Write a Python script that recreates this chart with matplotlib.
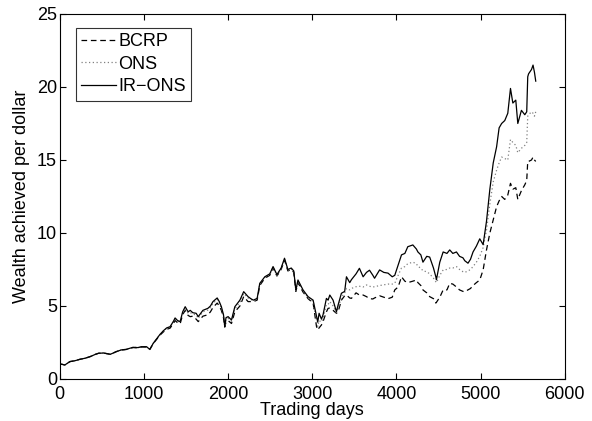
import matplotlib
matplotlib.use("Agg")
import matplotlib.pyplot as plt

plt.rcParams['font.family'] = ['Liberation Sans', 'DejaVu Sans']

# wealth per dollar (day, value)
days = [0, 30, 60, 120, 180, 240, 300, 360, 420, 460, 520, 600, 670, 730, 790,
        870, 930, 970, 1030, 1070, 1110, 1190, 1230, 1270, 1310, 1350, 1370,
        1400, 1430, 1460, 1490, 1525, 1550, 1580, 1620, 1645, 1700, 1760, 1790,
        1820, 1870, 1895, 1920, 1945, 1960, 1975, 2000, 2040, 2080, 2140, 2185,
        2237, 2270, 2300, 2345, 2376, 2436, 2495, 2534, 2580, 2630, 2670, 2710,
        2750, 2780, 2805, 2830, 2890, 2950, 3010, 3050, 3065, 3081, 3109, 3128,
        3168, 3188, 3208, 3247, 3287, 3307, 3346, 3385, 3406, 3445, 3465, 3520,
        3560, 3604, 3644, 3680, 3720, 3740, 3800, 3850, 3900, 3950, 3980, 4020,
        4060, 4100, 4135, 4195, 4237, 4255, 4290, 4315, 4360, 4395, 4440, 4468,
        4475, 4515, 4555, 4600, 4633, 4670, 4713, 4750, 4790, 4812, 4850, 4880,
        4910, 4950, 4990, 5030, 5070, 5110, 5150, 5190, 5220, 5250, 5287, 5323,
        5355, 5383, 5418, 5442, 5485, 5525, 5548, 5560, 5570, 5605, 5623, 5640,
        5655]

ir_ons = [1.03, 1.00, 0.96, 1.19, 1.25, 1.35, 1.42, 1.53, 1.68, 1.76, 1.78, 1.69,
          1.87, 1.99, 2.03, 2.17, 2.15, 2.21, 2.21, 2.03, 2.44, 3.05, 3.30, 3.50,
          3.58, 3.95, 4.18, 4.00, 3.93, 4.60, 4.95, 4.60, 4.70, 4.54, 4.50, 4.27,
          4.70, 4.84, 5.00, 5.30, 5.55, 5.30, 4.95, 4.40, 3.60, 4.20, 4.27, 4.04,
          4.95, 5.40, 5.98, 5.64, 5.50, 5.40, 5.52, 6.55, 7.00, 7.20, 7.70, 7.15,
          7.60, 8.27, 7.50, 7.60, 7.40, 6.10, 6.78, 6.10, 5.64, 5.40, 4.30, 3.90,
          4.50, 4.10, 4.40, 5.52, 5.40, 5.75, 5.40, 4.60, 5.07, 5.87, 6.00, 7.00,
          6.60, 6.80, 7.20, 7.58, 7.00, 7.30, 7.45, 7.10, 6.90, 7.47, 7.30, 7.25,
          7.00, 7.10, 7.80, 8.50, 8.60, 9.06, 9.18, 8.90, 8.70, 8.50, 8.00, 8.40,
          8.35, 7.60, 7.00, 6.80, 8.00, 8.70, 8.60, 8.84, 8.60, 8.70, 8.40, 8.30,
          8.10, 7.93, 8.20, 8.70, 9.10, 9.60, 9.20, 10.8, 13.0, 14.8, 15.9, 17.2,
          17.5, 17.7, 18.2, 19.9, 18.9, 19.1, 17.5, 18.4, 18.1, 18.3, 20.7, 20.9,
          21.2, 21.5, 21.0, 20.4]

ons = [1.03, 1.00, 0.96, 1.19, 1.25, 1.35, 1.42, 1.53, 1.68, 1.76, 1.78, 1.69,
       1.87, 1.99, 2.03, 2.17, 2.15, 2.21, 2.21, 2.03, 2.44, 3.03, 3.28, 3.47,
       3.55, 3.90, 4.12, 3.95, 3.88, 4.52, 4.85, 4.50, 4.55, 4.45, 4.38, 4.15,
       4.60, 4.72, 4.90, 5.18, 5.45, 5.20, 4.85, 4.30, 3.60, 4.05, 4.15, 3.95,
       4.80, 5.25, 5.85, 5.55, 5.45, 5.35, 5.48, 6.50, 6.95, 7.15, 7.65, 7.10,
       7.55, 8.20, 7.45, 7.55, 7.35, 6.05, 6.70, 6.02, 5.57, 5.30, 4.00, 3.60,
       4.00, 3.90, 4.15, 5.10, 5.10, 5.30, 5.00, 4.55, 4.85, 5.60, 5.90, 6.20,
       6.10, 6.20, 6.32, 6.35, 6.30, 6.44, 6.35, 6.30, 6.32, 6.40, 6.45, 6.50,
       6.50, 6.55, 7.10, 7.60, 7.70, 7.90, 8.00, 7.90, 7.70, 7.60, 7.40, 7.35,
       7.20, 6.90, 6.66, 6.60, 7.10, 7.47, 7.50, 7.60, 7.60, 7.70, 7.50, 7.35,
       7.30, 7.40, 7.50, 7.70, 8.00, 8.40, 9.00, 10.2, 12.0, 13.5, 14.3, 14.8,
       15.2, 15.1, 15.0, 16.4, 16.2, 16.0, 15.5, 15.8, 16.0, 16.2, 18.0, 18.1,
       18.3, 18.2, 18.0, 18.3]

bcrp = [1.03, 1.00, 0.96, 1.19, 1.25, 1.35, 1.42, 1.53, 1.68, 1.76, 1.78, 1.69,
        1.87, 1.98, 2.02, 2.15, 2.13, 2.19, 2.19, 2.02, 2.42, 3.00, 3.22, 3.40,
        3.48, 3.80, 4.00, 3.85, 3.78, 4.40, 4.70, 4.35, 4.27, 4.30, 4.10, 3.93,
        4.30, 4.40, 4.60, 4.90, 5.20, 5.00, 4.70, 4.20, 3.55, 3.90, 4.00, 3.80,
        4.60, 5.00, 5.64, 5.30, 5.30, 5.30, 5.40, 6.40, 6.90, 7.10, 7.60, 7.05,
        7.50, 8.15, 7.40, 7.50, 7.30, 6.00, 6.60, 5.95, 5.50, 5.20, 3.60, 3.36,
        3.50, 3.70, 3.93, 4.60, 4.84, 4.85, 4.70, 4.50, 4.60, 5.40, 5.70, 5.75,
        5.55, 5.52, 5.90, 5.75, 5.75, 5.64, 5.50, 5.48, 5.55, 5.70, 5.60, 5.50,
        5.60, 6.10, 6.30, 7.00, 6.70, 6.60, 6.70, 6.78, 6.60, 6.40, 6.10, 5.90,
        5.64, 5.50, 5.20, 5.25, 5.60, 6.10, 6.10, 6.55, 6.50, 6.30, 6.10, 6.00,
        5.98, 6.10, 6.20, 6.40, 6.60, 6.78, 7.47, 8.84, 10.0, 10.9, 11.8, 12.2,
        12.5, 12.3, 12.6, 13.4, 13.0, 13.1, 12.3, 12.9, 13.3, 13.6, 14.9, 14.9,
        15.0, 15.2, 15.0, 14.9]

fig = plt.figure(figsize=(5.92, 4.21), dpi=100)
ax = fig.add_axes([0.101, 0.0998, 0.853, 0.867])

ax.plot(days, bcrp, color='k', linestyle=(0, (4.5, 3)), linewidth=0.9, label='BCRP')
ax.plot(days, ons, color='0.5', linestyle=(0, (1, 2)), linewidth=0.9, label='ONS')
ax.plot(days, ir_ons, color='k', linestyle='-', linewidth=0.9, label='IR\u2212ONS')

ax.set_xlim(0, 6000)
ax.set_ylim(0, 25)
ax.set_xticks([0, 1000, 2000, 3000, 4000, 5000, 6000])
ax.set_yticks([0, 5, 10, 15, 20, 25])
ax.tick_params(direction='in', top=True, right=True, labelsize=13, length=4)
ax.tick_params(axis='x', pad=5)
ax.tick_params(axis='y', pad=2)
for s in ax.spines.values():
    s.set_linewidth(0.8)

ax.set_xlabel('Trading days', fontsize=13, labelpad=-1)
ax.set_ylabel('Wealth achieved per dollar', fontsize=13, labelpad=5)

lg = ax.legend(loc='upper left', bbox_to_anchor=(0.032, 0.962), fontsize=13,
               frameon=True, fancybox=False, edgecolor='k', borderpad=0.3,
               labelspacing=0.3, handlelength=1.9, handletextpad=0.15,
               borderaxespad=0)
lg.get_frame().set_linewidth(0.8)

fig.savefig('out.png', dpi=100)
